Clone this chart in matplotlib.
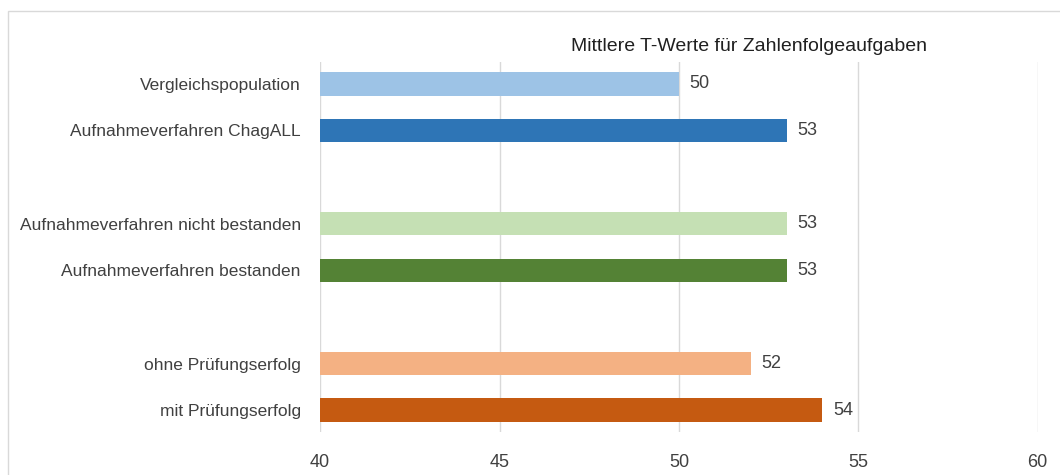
import matplotlib.pyplot as plt
from matplotlib.patches import Rectangle

categories = [
    'Vergleichspopulation',
    'Aufnahmeverfahren ChagALL',
    'Aufnahmeverfahren nicht bestanden',
    'Aufnahmeverfahren bestanden',
    'ohne Prüfungserfolg',
    'mit Prüfungserfolg',
]
values = [50, 53, 53, 53, 52, 54]
positions = [0, 1, 3, 4, 6, 7]
colors = ['#9DC3E6', '#2E75B6', '#C5E0B4', '#548235', '#F4B183', '#C55A11']
xticks = [40, 45, 50, 55, 60]

plt.rcParams['font.family'] = ['Liberation Sans', 'DejaVu Sans']

fig = plt.figure(figsize=(10.6, 4.75), dpi=100)
ax = fig.add_axes([0.302, 0.0905, 0.677, 0.779])

ax.barh(positions, [v - 40 for v in values], left=40, height=0.5, color=colors, zorder=3)
for p, v in zip(positions, values):
    ax.text(v + 0.3, p, str(v), va='center', ha='left', fontsize=13, color='#404040')

ax.set_xlim(40, 60)
ax.set_ylim(7.47, -0.47)
ax.set_xticks(xticks)
ax.set_yticks(positions)
ax.set_yticklabels(categories)
ax.tick_params(axis='x', length=0, labelsize=13, colors='#404040', pad=16)
ax.tick_params(axis='y', length=0, labelsize=12.5, colors='#404040', pad=14)
ax.grid(axis='x', color='#D9D9D9', linewidth=1, zorder=0)
for s in ax.spines.values():
    s.set_visible(False)

fig.text(0.707, 0.903, 'Mittlere T-Werte für Zahlenfolgeaufgaben', ha='center', va='center',
         fontsize=14, color='#202020')

fig.patches.append(Rectangle((8 / 1060, -0.05), 1.2, 1 - 11 / 475 + 0.05, transform=fig.transFigure,
                             fill=False, edgecolor='#D9D9D9', linewidth=1))

fig.savefig('out.png', dpi=100)
